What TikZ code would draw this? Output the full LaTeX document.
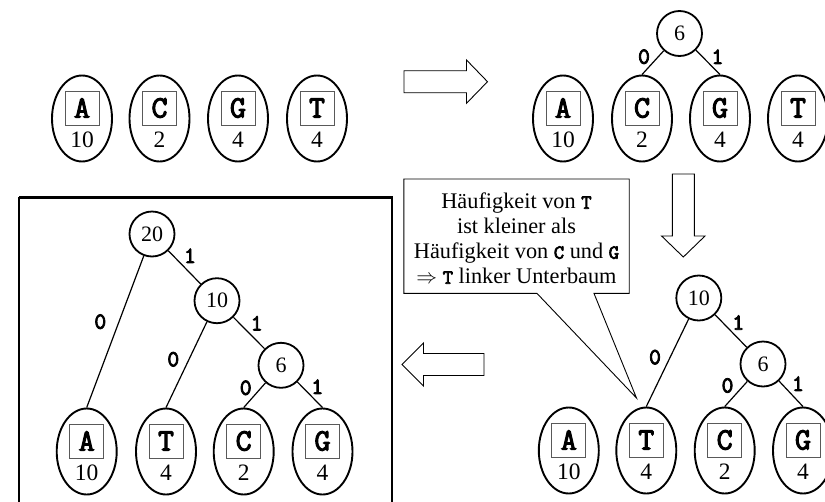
\documentclass[tikz,border=0pt]{standalone}
\usepackage{fontspec}
\setmainfont{Liberation Serif}
% heavy typewriter face for the symbols and the code bits
\newfontfamily\keyfont[FakeBold=3.5]{Latin Modern Mono}
\usetikzlibrary{shapes.geometric}

% bold typewriter symbol inside the running text of the note
\newcommand\keyc[1]{{\keyfont\fontsize{20}{25}\selectfont #1}}

% leaf of a Huffman tree: ellipse with boxed symbol and its frequency
\newcommand\leafnode[5]{%
  \node[leaf] (#1) at (#2,#3) {};
  \node[letterbox] (#1-key) at (#2,#3-10.5) {#4};
  \node[count] (#1-cnt) at (#2,#3+21.5) {#5};
}

\tikzset{
  leaf/.style={draw, ellipse, line width=1.9pt, minimum width=60pt,
    minimum height=86pt, inner sep=0pt},
  letterbox/.style={draw=black!65, line width=0.9pt, minimum size=34pt,
    inner sep=0pt, font=\keyfont\fontsize{31}{31}\selectfont},
  count/.style={inner sep=0pt, font=\fontsize{23.5}{23.5}\selectfont},
  inner/.style={draw, circle, line width=1.8pt, minimum size=45pt,
    inner sep=0pt, font=\fontsize{22}{22}\selectfont},
  bit/.style={inner sep=0pt, font=\keyfont\fontsize{23}{23}\selectfont},
  branch/.style={line width=1.2pt},
  blockarrow/.style={draw, line width=0.9pt, line join=miter},
  notebox/.style={minimum width=225pt, minimum height=114pt, inner sep=0pt},
  notetext/.style={align=center, inner sep=0pt,
    font=\fontsize{22.3}{25}\selectfont},
}

\begin{document}
\begin{tikzpicture}[x=1pt, y=-1pt]
\useasboundingbox (0,0) rectangle (825,501);

% ---- step 1: the four symbols with their frequencies
\leafnode{sA}{82}{118.5}{A}{10}
\leafnode{sC}{159.5}{118.5}{C}{2}
\leafnode{sG}{238}{118.5}{G}{4}
\leafnode{sT}{317}{118.5}{T}{4}

% ---- step 2: C and G joined
\leafnode{tA}{563}{118.5}{A}{10}
\leafnode{tC}{642}{118.5}{C}{2}
\leafnode{tG}{720}{118.5}{G}{4}
\leafnode{tT}{798}{118.5}{T}{4}
\node[inner] (t6) at (679.5,33.5) {6};
\draw[branch] (t6) -- (tC.north);
\draw[branch] (t6) -- (tG.north);
\node[bit] (t6-0) at (644,56.7) {0};
\node[bit] (t6-1) at (717.5,56.7) {1};

% ---- step 3: T joined with the (C,G) subtree
\leafnode{rA}{568.8}{450.5}{A}{10}
\leafnode{rT}{646.3}{450.5}{T}{4}
\leafnode{rC}{724.7}{450.5}{C}{2}
\leafnode{rG}{803}{450.5}{G}{4}
\node[inner] (r10) at (698.8,298) {10};
\node[inner] (r6) at (763,364) {6};
\draw[branch] (r10) -- (rT.north);
\draw[branch] (r10) -- (r6);
\draw[branch] (r6) -- (rC.north);
\draw[branch] (r6) -- (rG.north);
\node[bit] (r10-0) at (655,357.2) {0};
\node[bit] (r10-1) at (738.3,322.5) {1};
\node[bit] (r6-0) at (727.5,385.5) {0};
\node[bit] (r6-1) at (798,383.7) {1};

% ---- step 4: the finished code tree
\draw[line width=2.4pt] (19,197.3) |- (391.7,197.3) -- (391.7,506);
\draw[line width=2.4pt] (19,197.3) -- (19,506);
\leafnode{fA}{86.7}{451.5}{A}{10}
\leafnode{fT}{166}{451.5}{T}{4}
\leafnode{fC}{243.7}{451.5}{C}{2}
\leafnode{fG}{322.5}{451.5}{G}{4}
\node[inner] (f20) at (152,234) {20};
\node[inner] (f10) at (217,300.7) {10};
\node[inner] (f6) at (281,365.3) {6};
\draw[branch] (f20) -- (fA.north);
\draw[branch] (f20) -- (f10);
\draw[branch] (f10) -- (fT.north);
\draw[branch] (f10) -- (f6);
\draw[branch] (f6) -- (fC.north);
\draw[branch] (f6) -- (fG.north);
\node[bit] (f20-0) at (100.3,321.7) {0};
\node[bit] (f20-1) at (190,255.8) {1};
\node[bit] (f10-0) at (173.3,359.3) {0};
\node[bit] (f10-1) at (256.7,323.3) {1};
\node[bit] (f6-0) at (245.7,387.8) {0};
\node[bit] (f6-1) at (317.3,386.7) {1};

% ---- block arrows between the steps
\draw[blockarrow] (404,70.7) -- (466.5,70.7) -- (466.5,60) -- (487.5,81.7)
  -- (466.5,103.3) -- (466.5,92.7) -- (404,92.7) -- cycle;
\draw[blockarrow] (672.3,174) -- (694.3,174) -- (694.3,236) -- (705,236)
  -- (683.3,257) -- (661.6,236) -- (672.3,236) -- cycle;
\draw[blockarrow] (484,353.5) -- (423.5,353.5) -- (423.5,343) -- (402,364.5)
  -- (423.5,386) -- (423.5,375.5) -- (484,375.5) -- cycle;

% ---- note with pointer to T
\node[notebox] (note) at (516.5,236.2) {};
\node[notetext] (note-text) at (516.5,238.5)
  {Häufigkeit von \keyc{T}\\ist kleiner als\\Häufigkeit von \keyc{C} und \keyc{G}\\$\Rightarrow$ \keyc{T} linker Unterbaum};
\coordinate (note-tip) at (636.5,398);
\draw[line width=0.9pt, line join=miter] (note.north west) -- (note.north east)
  -- (note.south east) -- ([xshift=77.5pt]note.south) -- (note-tip)
  -- ([xshift=20.5pt]note.south) -- (note.south west) -- cycle;
\end{tikzpicture}
\end{document}
